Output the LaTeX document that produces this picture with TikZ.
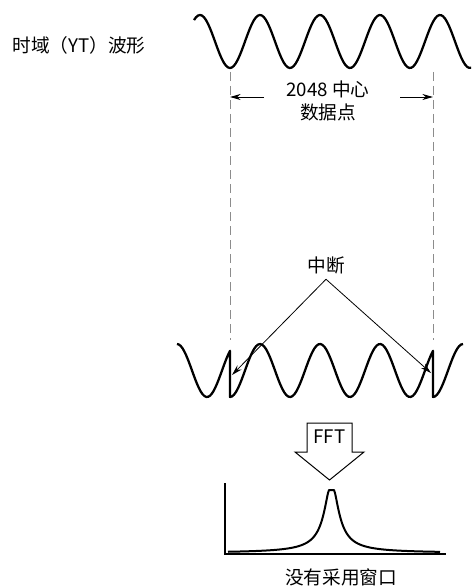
\documentclass[tikz,border=0pt]{standalone}
\usepackage{fontspec}
\setmainfont{Noto Sans CJK SC}
\usepackage{tikz}
\usetikzlibrary{arrows.meta}
\definecolor{grigio}{HTML}{8C8C8C}

\begin{document}
\begin{tikzpicture}[x=0.75pt, y=-0.75pt,
        onda/.style={line width=1.7pt, line join=round},
        guida/.style={dash pattern=on 7pt off 3.5pt, color=grigio, line width=0.7pt},
        freccia/.style={line width=0.6pt, -{Stealth[length=8pt, width=4.5pt]}},
        testo/.style={font=\fontsize{14}{17}\selectfont, inner sep=1pt}]
        \useasboundingbox (0,0) rectangle (473,588);
        % onda nel tempo
        \node[testo] (tempo) at (79,45) {时域（YT）波形};
        \draw[onda] plot[domain=194:471, samples=140] (\x, {41.5-26.5*cos(6*(\x-200))});
        % guide tratteggiate
        \coordinate (sxalto) at (230,72);
        \coordinate (sxbasso) at (230,340);
        \coordinate (dxalto) at (433,72);
        \coordinate (dxbasso) at (433,340);
        \draw[guida] (sxalto) -- (sxbasso);
        \draw[guida] (dxalto) -- (dxbasso);
        % quota dei punti
        \node[testo, align=center] (punti) at (328,101) {2048 中心\\数据点};
        \coordinate (codasx) at (264,97);
        \coordinate (quotasx) at (230,97);
        \coordinate (codadx) at (400,97);
        \coordinate (quotadx) at (433,97);
        \draw[freccia] (codasx) -- (quotasx);
        \draw[freccia] (codadx) -- (quotadx);
        % onda ripetuta con i salti
        \coordinate (saltosx) at (230,397);
        \coordinate (saltodx) at (433,397);
        \draw[onda] plot[domain=177:230, samples=30] (\x, {370.5-26.5*cos(6*(\x+3))})
            -- (saltosx)
            -- plot[domain=230:433, samples=102] (\x, {370.5-26.5*cos(6*(\x-200))})
            -- (saltodx)
            -- plot[domain=433:463, samples=16] (\x, {370.5-26.5*cos(6*(\x-403))});
        % etichetta dei salti
        \node[testo] (interruz) at (326,265) {中断};
        \coordinate (vertice) at ([yshift=-3pt]interruz.south);
        \coordinate (tagliosx) at (232,375);
        \coordinate (tagliodx) at (431,373);
        \draw[freccia] (vertice) -- (tagliosx);
        \draw[freccia] (vertice) -- (tagliodx);
        % freccia FFT
        \draw[line width=0.75pt] (307,423) -- (352,423) -- (352,452) -- (364,452)
            -- (329.5,480) -- (295,452) -- (307,452) -- cycle;
        \node[testo] (fft) at (329.5,437) {FFT};
        % spettro
        \draw[line width=0.8pt] (225,483) -- (225,554) -- (446,554);
        \draw[line width=1.5pt, line join=round] plot[domain=228:440, samples=213]
            (\x, {553-63/(1+pow(max(abs(\x-331.5)-2.5,0.001)/7.5,1.5))});
        \node[testo] (finestra) at (341,577) {没有采用窗口};
    \end{tikzpicture}
\end{document}
